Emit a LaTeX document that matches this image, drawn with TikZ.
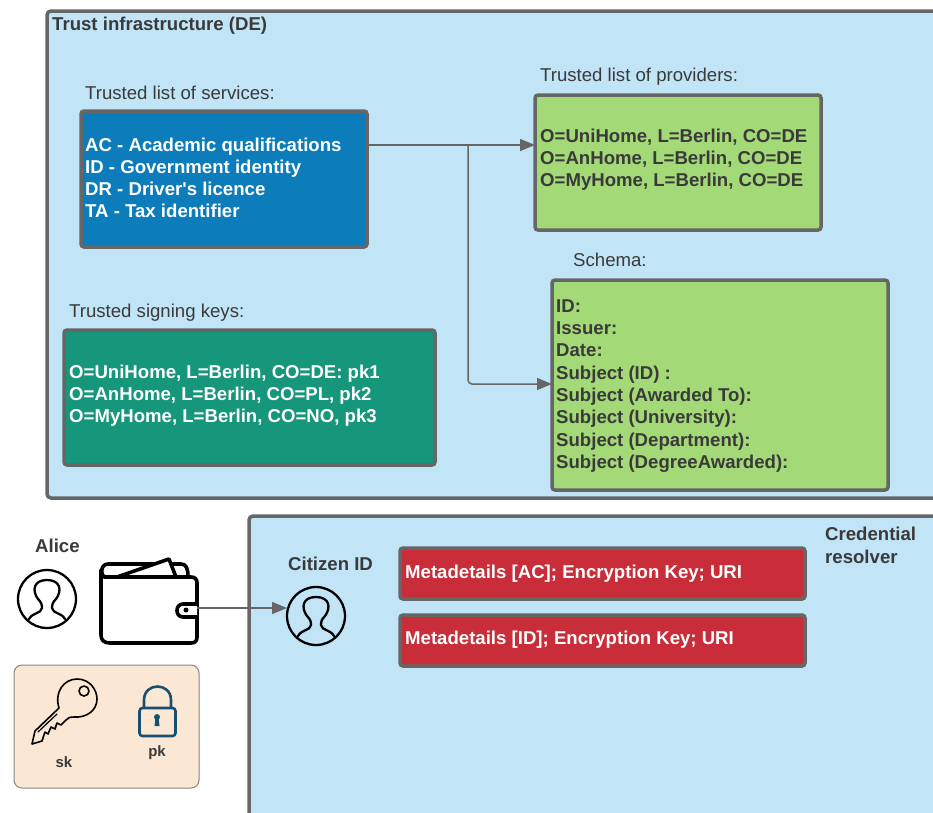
\documentclass[tikz,border=0pt]{standalone}
\usepackage{fontspec}
\setmainfont[Ligatures=TeXOff]{Liberation Sans}
\usetikzlibrary{arrows.meta}
\definecolor{edge}{HTML}{666666}
\definecolor{pale}{HTML}{C1E4F7}
\definecolor{blueb}{HTML}{0C7CBA}
\definecolor{greenb}{HTML}{A3D977}
\definecolor{tealb}{HTML}{16967A}
\definecolor{redb}{HTML}{C92D39}
\definecolor{peach}{HTML}{FAE8D4}
\definecolor{ink}{HTML}{3A3A3A}
\definecolor{lockc}{HTML}{19506F}
\tikzset{
 panel/.style={draw=edge,line width=3.5pt,rounded corners=4pt,fill=pale,outer sep=0pt},
 card/.style={draw=edge,line width=3.5pt,rounded corners=3pt,outer sep=0pt},
 title/.style={anchor=west,text=ink,font=\fontsize{18.6}{22}\selectfont,inner sep=0pt},
 boldt/.style={anchor=west,text=ink,font=\fontsize{18.6}{22}\selectfont\bfseries,inner sep=0pt},
 body/.style={anchor=west,font=\fontsize{18.6}{22}\selectfont\bfseries,inner sep=0pt,align=left},
 schemabody/.style={body,font=\fontsize{18.6}{22.3}\selectfont\bfseries},
 link/.style={draw=edge,line width=1.5pt,rounded corners=4pt,-{Triangle[length=15pt,width=12pt]}},
 icon/.style={draw=black,line width=3.6pt,line join=round,line cap=round},
 thinicon/.style={draw=black,line width=2.3pt,line join=round,line cap=round},
}
\newcommand{\personicon}[2]{%
 \begin{scope}[shift={(#1,#2)}]
  \draw[thinicon] (0,0) circle (29);
  \draw[thinicon] (-18,20) .. controls (-14,13) and (-6,15) .. (-5,9) .. controls (-5,5) and (-6,3) .. (-9,0)
    .. controls (-15,-8) and (-14,-19) .. (0,-19) .. controls (14,-19) and (15,-8) .. (9,0)
    .. controls (6,3) and (5,5) .. (5,9) .. controls (6,15) and (14,13) .. (18,20);
 \end{scope}}
\begin{document}
\begin{tikzpicture}[x=1pt,y=-1pt]
\useasboundingbox (0,0) rectangle (933,812);
\clip (0,0) rectangle (933,812);
\node[panel,minimum width=1000pt,minimum height=487pt,anchor=north west,inner sep=0pt] (trust) at (47,11) {};
\node[panel,minimum width=800pt,minimum height=400pt,anchor=north west,inner sep=0pt] (resolver) at (249,516) {};
\node[boldt] (trustt) at (52,26) {Trust infrastructure (DE)};
\node[title] (servt) at (85,93) {Trusted list of services:};
\node[title] (provt) at (540,77) {Trusted list of providers:};
\node[title] (schemat) at (573,260) {Schema:};
\node[title] (keyt) at (69,313) {Trusted signing keys:};

\node[card,fill=blueb,minimum width=286pt,minimum height=136pt,anchor=north west,inner sep=0pt] (services) at (81,111) {};
\node[body,text=white] (servtext) at (85,178) {AC - Academic qualifications\\ID - Government identity\\DR - Driver's licence\\TA - Tax identifier};

\node[card,fill=greenb,minimum width=286pt,minimum height=135pt,anchor=north west,inner sep=0pt] (providers) at (535,95) {};
\node[body,text=ink] (provtext) at (540,160) {O=UniHome, L=Berlin, CO=DE\\O=AnHome, L=Berlin, CO=DE\\O=MyHome, L=Berlin, CO=DE};

\node[card,fill=greenb,minimum width=336pt,minimum height=210pt,anchor=north west,inner sep=0pt] (schema) at (552,280) {};
\node[schemabody,text=ink] (schematext) at (556,386) {ID:\\Issuer:\\Date:\\Subject (ID) :\\Subject (Awarded To):\\Subject (University):\\Subject (Department):\\Subject (DegreeAwarded):};

\node[card,fill=tealb,minimum width=371pt,minimum height=135pt,anchor=north west,inner sep=0pt] (keys) at (64,330) {};
\node[body,text=white] (keystext) at (69,396) {O=UniHome, L=Berlin, CO=DE: pk1\\O=AnHome, L=Berlin, CO=PL, pk2\\O=MyHome, L=Berlin, CO=NO, pk3};

\node[card,fill=redb,minimum width=405pt,minimum height=51pt,anchor=north west,inner sep=0pt] (red1) at (400,548) {};
\node[body,text=white] (red1t) at (405,574) {Metadetails [AC]; Encryption Key; URI};
\node[card,fill=redb,minimum width=405pt,minimum height=51pt,anchor=north west,inner sep=0pt] (red2) at (400,615) {};
\node[body,text=white] (red2t) at (405,640) {Metadetails [ID]; Encryption Key; URI};

\node[boldt,font=\fontsize{18.6}{23}\selectfont\bfseries,align=left] (credt) at (825,545) {Credential\\resolver};
\node[boldt] (citt) at (288,564) {Citizen ID};
\node[boldt] (alicet) at (35,546) {Alice};

% connectors
\coordinate (out) at (services.north east |- 0,145);
\coordinate (branch) at (468,145);
\coordinate (pin) at (providers.west |- 0,145);
\coordinate (sin) at (schema.west |- 0,384);
\coordinate (walletout) at (197,608);
\coordinate (citin) at (287,608);
\draw[link] (out) -- (pin);
\draw[link] (branch) -- (468,384) -- (sin);

% people
\personicon{47}{599}
\personicon{316}{616}

% wallet
\draw[icon,fill=white] (106,577) .. controls (100,577) and (100,564) .. (108,564) -- (181,564) .. controls (186,564) and (188,568) .. (188,577);
\draw[icon,fill=white] (117,577) -- (169,559) -- (176,577);
\draw[icon] (104,577) -- (191,577) .. controls (195,577) and (197,579) .. (197,583) -- (197,637)
  .. controls (197,641) and (195,643) .. (191,643) -- (110,643) .. controls (104,643) and (101,640) .. (101,635) -- (101,570);
\draw[icon,fill=white] (197,604) -- (183,604) .. controls (175,604) and (175,617) .. (183,617) -- (197,617);
\fill (186,610) circle (2.5);
\draw[link] (walletout) -- (citin);

% key panel
\node[draw=edge!80,line width=1pt,rounded corners=8pt,fill=peach,minimum width=185pt,minimum height=123pt,anchor=north west,inner sep=0pt,outer sep=0pt] (keypanel) at (14,665) {};
\draw[thinicon,line width=1.6pt,fill=none] (59,708)
  .. controls (54,692) and (64,679) .. (77,679) .. controls (90,679) and (97,690) .. (97,699)
  .. controls (97,710) and (87,718) .. (74,717) .. controls (71,716) and (68,718) .. (66,720)
  -- (61,725) -- (57,723) -- (55,729) -- (51,727) -- (48,734) -- (45,732) -- (42,741) -- (32,744) -- (35,731) -- cycle;
\draw[thinicon,line width=1.2pt] (38,732) -- (57,714);
\draw[thinicon,line width=1.6pt] (84,691) circle (5);
\node[boldt,anchor=center,font=\fontsize{15}{17}\selectfont\bfseries] (skt) at (64,762) {sk};
\draw[draw=lockc,line width=2.6pt,rounded corners=3pt] (139.5,708) rectangle (175.5,736);
\draw[draw=lockc,line width=2.6pt] (144,708) -- (144,700) .. controls (144,682) and (171,682) .. (171,700) -- (171,708);
\fill[lockc] (157,717) circle (3);
\fill[lockc] (155.5,717) -- (158.5,717) -- (159.5,726) -- (154.5,726) -- cycle;
\node[boldt,anchor=center,font=\fontsize{15}{17}\selectfont\bfseries] (pkt) at (157,753) {pk};
\end{tikzpicture}
\end{document}
